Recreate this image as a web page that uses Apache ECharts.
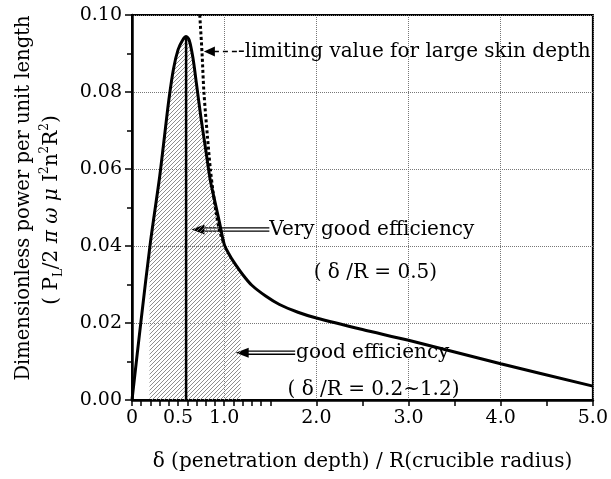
<!DOCTYPE html>
<html>
<head>
<meta charset="utf-8">
<script src="https://cdn.jsdelivr.net/npm/echarts@6/dist/echarts.min.js"></script>
<style>
  html, body { margin: 0; padding: 0; background: #fff; }
  #main { width: 611px; height: 479px; }
</style>
</head>
<body>
<div id="main"></div>
<script>
// power curve
const curveX = [0, 0.1, 0.2, 0.3, 0.35, 0.4, 0.45, 0.5, 0.55, 0.587, 0.62, 0.66, 0.7, 0.75, 0.8, 0.85, 0.9, 0.95, 1.0, 1.05, 1.1, 1.2, 1.3, 1.45, 1.6, 1.8, 2.0, 2.5, 3.0, 4.0, 5.0];
const curveY = [0, 0.021, 0.041, 0.058, 0.068, 0.078, 0.086, 0.091, 0.0935, 0.0944, 0.0935, 0.089, 0.082, 0.073, 0.065, 0.057, 0.0515, 0.046, 0.0405, 0.038, 0.036, 0.0326, 0.0298, 0.027, 0.0248, 0.0228, 0.0213, 0.0183, 0.0155, 0.0094, 0.0036];

// limiting value for large skin depth (dotted)
const limX = [0.735, 0.76, 0.78, 0.82, 0.85, 0.88, 0.91, 0.95, 1.0];
const limY = [0.1, 0.09, 0.08, 0.068, 0.06, 0.054, 0.049, 0.044, 0.0405];

// hatched band (good efficiency) and its edge values
const bandX = [0.19, 1.18];
const bandEdgeY = [0.040, 0.033];

// optimum line
const optX = 0.587;
const optY = 0.0944;

const xTicks = [0, 0.1, 0.2, 0.3, 0.4, 0.5, 0.6, 0.7, 0.8, 0.9, 1.0, 1.1, 1.2, 1.3, 1.4, 1.5, 2.0, 2.5, 3.0, 3.5, 4.0, 4.5, 5.0];
const xLabels = [0, 0.5, 1.0, 2.0, 3.0, 4.0, 5.0];

const FONT = 'DejaVu Serif';

function hatch() {
  const c = document.createElement('canvas');
  c.width = 4; c.height = 4;
  const g = c.getContext('2d');
  g.strokeStyle = '#808080';
  g.lineWidth = 0.9;
  g.beginPath();
  g.moveTo(0, 4); g.lineTo(4, 0);
  g.moveTo(-1, 1); g.lineTo(1, -1);
  g.moveTo(3, 5); g.lineTo(5, 3);
  g.stroke();
  return c;
}

const curve = curveX.map((x, i) => [x, curveY[i]]);
const limit = limX.map((x, i) => [x, limY[i]]);
const band = [[bandX[0], 0], [bandX[0], bandEdgeY[0]]]
  .concat(curve.filter(p => p[0] > bandX[0] && p[0] < bandX[1]))
  .concat([[bandX[1], bandEdgeY[1]], [bandX[1], 0]]);

const chart = echarts.init(document.getElementById('main'));

const option = {
  animation: false,
  grid: {
    left: 132, right: 15, top: 15, bottom: 79,
    show: true, borderColor: '#000', borderWidth: 2
  },
  xAxis: [{
    type: 'value', min: 0, max: 5, interval: 0.5,
    axisLine: { lineStyle: { color: '#000', width: 2.5 } },
    axisTick: { customValues: xTicks, length: 6, lineStyle: { color: '#000', width: 1.5 } },
    axisLabel: {
      customValues: xLabels, margin: 9, color: '#000', fontSize: 19, fontFamily: FONT,
      formatter: v => v === 0 ? '0' : v.toFixed(1)
    },
    splitLine: { show: false },
    name: 'δ (penetration depth) / R(crucible radius)',
    nameLocation: 'middle', nameGap: 52,
    nameTextStyle: { color: '#000', fontSize: 20, fontFamily: FONT }
  }, {
    type: 'value', min: 0, max: 5, interval: 1, position: 'bottom',
    axisLine: { show: false }, axisTick: { show: false }, axisLabel: { show: false },
    splitLine: { show: true, lineStyle: { color: '#777', type: 'dotted', width: 1 } }
  }],
  yAxis: {
    type: 'value', min: 0, max: 0.1, interval: 0.02,
    axisLine: { lineStyle: { color: '#000', width: 2.5 } },
    axisTick: { length: 7, lineStyle: { color: '#000', width: 1.5 } },
    minorTick: { show: true, splitNumber: 2, length: 5, lineStyle: { color: '#000', width: 1.5 } },
    axisLabel: { margin: 10, color: '#000', fontSize: 19, fontFamily: FONT, formatter: v => v.toFixed(2) },
    splitLine: { show: true, lineStyle: { color: '#777', type: 'dotted', width: 1 } }
  },
  series: [{
    name: 'band', type: 'line', data: band, symbol: 'none', silent: true,
    lineStyle: { width: 0 },
    areaStyle: { color: { image: hatch(), repeat: 'repeat' }, opacity: 1 },
    z: 1
  }, {
    name: 'optimum', type: 'line', data: [[optX, 0], [optX, optY]], symbol: 'none',
    lineStyle: { color: '#000', width: 2.5 }, z: 3
  }, {
    name: 'limit', type: 'line', data: limit, symbol: 'none', smooth: 0.3,
    lineStyle: { color: '#000', width: 3, type: [3, 2.5] }, z: 3
  }, {
    name: 'power', type: 'line', data: curve, symbol: 'none', smooth: 0.3,
    lineStyle: { color: '#000', width: 3 }, z: 4
  }]
};
chart.setOption(option);

const px = (x, y) => chart.convertToPixel({ gridIndex: 0 }, [x, y]);

function arrowHead(tip, len, half) {
  return {
    type: 'polygon',
    shape: { points: [tip, [tip[0] + len, tip[1] - half], [tip[0] + len, tip[1] + half]] },
    style: { fill: '#000' }
  };
}

function doubleArrow(tipData, endData) {
  const t = px(tipData[0], tipData[1]);
  const e = px(endData[0], tipData[1]);
  return [
    arrowHead(t, 13, 5),
    { type: 'line', shape: { x1: t[0] + 10, y1: t[1] - 1.6, x2: e[0], y2: t[1] - 1.6 }, style: { stroke: '#000', lineWidth: 1.3 } },
    { type: 'line', shape: { x1: t[0] + 10, y1: t[1] + 1.6, x2: e[0], y2: t[1] + 1.6 }, style: { stroke: '#000', lineWidth: 1.3 } }
  ];
}

function label(x, y, text, align) {
  const p = px(x, y);
  return {
    type: 'text', x: p[0], y: p[1],
    style: { text: text, fill: '#000', fontSize: 20, fontFamily: FONT, align: align || 'left', verticalAlign: 'middle' }
  };
}

const limTip = px(0.78, 0.0905);
const limEnd = px(1.14, 0.0905);

const graphic = [
  arrowHead(limTip, 11, 5),
  { type: 'line', shape: { x1: limTip[0] + 10, y1: limTip[1], x2: limEnd[0], y2: limEnd[1] },
    style: { stroke: '#000', lineWidth: 1.5, lineDash: [5, 4] } },
  label(1.15, 0.0905, '-limiting value for large skin depth'),
  ...doubleArrow([0.645, 0.0443], [1.49]),
  label(1.49, 0.0443, 'Very good efficiency'),
  label(2.64, 0.0330, '( δ /R = 0.5)', 'center'),
  ...doubleArrow([1.125, 0.0123], [1.77]),
  label(1.78, 0.0123, 'good efficiency'),
  label(2.62, 0.0026, '( δ /R = 0.2~1.2)', 'center'),
  {
    type: 'text', x: 24, y: 198, rotation: Math.PI / 2,
    style: { text: 'Dimensionless power per unit length', fill: '#000', fontSize: 19.5, fontFamily: FONT, align: 'center', verticalAlign: 'middle' }
  },
  {
    type: 'text', x: 52, y: 210, rotation: Math.PI / 2,
    style: {
      text: '{a|( P}{s|L}{a|/2 }{g|π ω μ }{a|I}{p|2}{a|n}{p|2}{a|R}{p|2}{a|)}',
      align: 'center', verticalAlign: 'middle',
      rich: {
        a: { fontSize: 20, fontFamily: FONT, fill: '#000', lineHeight: 26, verticalAlign: 'middle' },
        g: { fontSize: 20, fontFamily: FONT, fontStyle: 'italic', fill: '#000', lineHeight: 26, verticalAlign: 'middle' },
        s: { fontSize: 12, fontFamily: FONT, fill: '#000', verticalAlign: 'bottom' },
        p: { fontSize: 12, fontFamily: FONT, fill: '#000', verticalAlign: 'top' }
      }
    }
  }
];

chart.setOption({ graphic: graphic });
</script>
</body>
</html>
